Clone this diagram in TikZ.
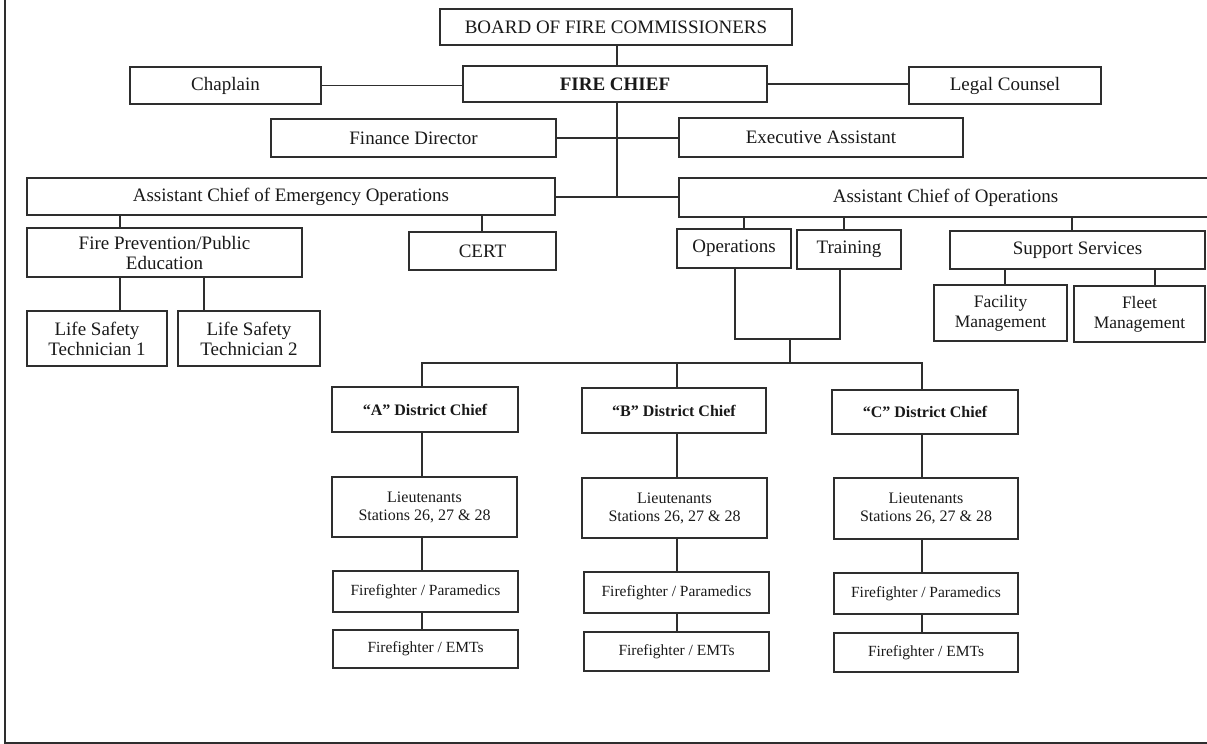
\documentclass[tikz,border=0pt]{standalone}
\usepackage{fontspec}
\setmainfont{Liberation Serif}
\definecolor{lc}{gray}{0.18}
\definecolor{tc}{gray}{0.1}
\tikzset{
  box/.style={draw=lc, line width=1.2pt, rectangle, inner sep=0pt, align=center, text=tc,
              font=\fontsize{19}{20}\selectfont},
  wire/.style={draw=lc, line width=1.2pt},
  sm/.style={font=\fontsize{17.5}{20}\selectfont},
  dist/.style={font=\fontsize{16}{18}\selectfont\bfseries},
  lt/.style={font=\fontsize{16}{18}\selectfont},
  ff/.style={font=\fontsize{15.5}{18}\selectfont},
  chiefst/.style={font=\fontsize{19}{20}\selectfont\bfseries},
}
\newcommand\orgbox[7][]{\node[box,#1,minimum width={#5-#3},minimum height={#6-#4}] (#2) at ({(#3+#5)/2},{(#4+#6)/2}) {#7};}
\begin{document}
\begin{tikzpicture}[x=1pt,y=-1pt]
\useasboundingbox (0,0) rectangle (1207,744);
% frame (left and bottom edges visible)
\draw[wire] (5,0) -- (5,743) -- (1207,743);

% top levels
\orgbox{board}{440}{9}{792}{45}{BOARD OF FIRE COMMISSIONERS}
\orgbox{chaplain}{130}{67}{321}{104}{Chaplain}
\orgbox[chiefst]{chief}{463}{66}{767}{102}{FIRE CHIEF}
\orgbox{legal}{909}{67}{1101}{104}{Legal Counsel}
\orgbox{finance}{271}{119}{556}{157}{Finance Director}
\orgbox{exec}{679}{118}{963}{157}{Executive Assistant}
\orgbox{ace}{27}{178}{555}{215}{Assistant Chief of Emergency Operations}
\orgbox{aco}{679}{178}{1212}{217}{Assistant Chief of Operations}

% second levels
\orgbox{firep}{27}{228}{302}{277}{Fire Prevention/Public\\Education}
\orgbox{cert}{409}{232}{556}{270}{CERT}
\orgbox{ops}{677}{229}{791}{268}{Operations}
\orgbox{train}{797}{230}{901}{269}{Training}
\orgbox{supp}{950}{231}{1205}{269}{Support Services}
\orgbox[sm]{fac}{934}{285}{1067}{341}{Facility\\Management}
\orgbox[sm]{fleet}{1074}{286}{1205}{342}{Fleet\\Management}
\orgbox{ls1}{27}{311}{167}{366}{Life Safety\\Technician 1}
\orgbox{ls2}{178}{311}{320}{366}{Life Safety\\Technician 2}

% district columns
\orgbox[dist]{adc}{332}{387}{518}{432}{“A” District Chief}
\orgbox[dist]{bdc}{582}{388}{766}{433}{“B” District Chief}
\orgbox[dist]{cdc}{832}{390}{1018}{434}{“C” District Chief}
\orgbox[lt]{alt}{332}{477}{517}{537}{Lieutenants\\Stations 26, 27 \& 28}
\orgbox[lt]{blt}{582}{478}{767}{538}{Lieutenants\\Stations 26, 27 \& 28}
\orgbox[lt]{clt}{834}{478}{1018}{539}{Lieutenants\\Stations 26, 27 \& 28}
\orgbox[ff]{apm}{333}{571}{518}{612}{Firefighter / Paramedics}
\orgbox[ff]{bpm}{584}{572}{769}{613}{Firefighter / Paramedics}
\orgbox[ff]{cpm}{834}{573}{1018}{614}{Firefighter / Paramedics}
\orgbox[ff]{aemt}{333}{630}{518}{668}{Firefighter / EMTs}
\orgbox[ff]{bemt}{584}{632}{769}{671}{Firefighter / EMTs}
\orgbox[ff]{cemt}{834}{633}{1018}{672}{Firefighter / EMTs}

% junction coordinates
\coordinate (trunk) at (617,197);
\coordinate (brkL) at (735,339);
\coordinate (brkR) at (840,339);
\coordinate (brk) at (790,339);
\coordinate (bus) at (790,363);
\coordinate (busA) at (422,363);
\coordinate (busB) at (677,363);
\coordinate (busC) at (922,363);

% connectors: top
\draw[wire] (617,0 |- board.south) -- (617,0 |- chief.north);
\draw[wire] (chaplain.east) -- (chaplain.east -| chief.west);
\draw[wire] (chief.east) -- (chief.east -| legal.west);
\draw[wire] (617,0 |- chief.south) -- (trunk);
\draw[wire] (finance.east) -- (finance.east -| exec.west);
\draw[wire] (ace.east |- trunk) -- (aco.west |- trunk);

% connectors: second level
\draw[wire] (120,0 |- ace.south) -- (120,0 |- firep.north);
\draw[wire] (482,0 |- ace.south) -- (482,0 |- cert.north);
\draw[wire] (744,0 |- aco.south) -- (744,0 |- ops.north);
\draw[wire] (844,0 |- aco.south) -- (844,0 |- train.north);
\draw[wire] (1072,0 |- aco.south) -- (1072,0 |- supp.north);
\draw[wire] (1005,0 |- supp.south) -- (1005,0 |- fac.north);
\draw[wire] (1155,0 |- supp.south) -- (1155,0 |- fleet.north);
\draw[wire] (120,0 |- firep.south) -- (120,0 |- ls1.north);
\draw[wire] (204,0 |- firep.south) -- (204,0 |- ls2.north);

% operations / training bracket to districts
\draw[wire] (brkL |- ops.south) -- (brkL) -- (brkR) -- (brkR |- train.south);
\draw[wire] (brk) -- (bus);
\draw[wire] (busA |- adc.north) -- (busA) -- (busC) -- (busC |- cdc.north);
\draw[wire] (busB) -- (busB |- bdc.north);

% district chains
\draw[wire] (422,0 |- adc.south) -- (422,0 |- alt.north);
\draw[wire] (422,0 |- alt.south) -- (422,0 |- apm.north);
\draw[wire] (422,0 |- apm.south) -- (422,0 |- aemt.north);
\draw[wire] (677,0 |- bdc.south) -- (677,0 |- blt.north);
\draw[wire] (677,0 |- blt.south) -- (677,0 |- bpm.north);
\draw[wire] (677,0 |- bpm.south) -- (677,0 |- bemt.north);
\draw[wire] (922,0 |- cdc.south) -- (922,0 |- clt.north);
\draw[wire] (922,0 |- clt.south) -- (922,0 |- cpm.north);
\draw[wire] (922,0 |- cpm.south) -- (922,0 |- cemt.north);
\end{tikzpicture}
\end{document}
